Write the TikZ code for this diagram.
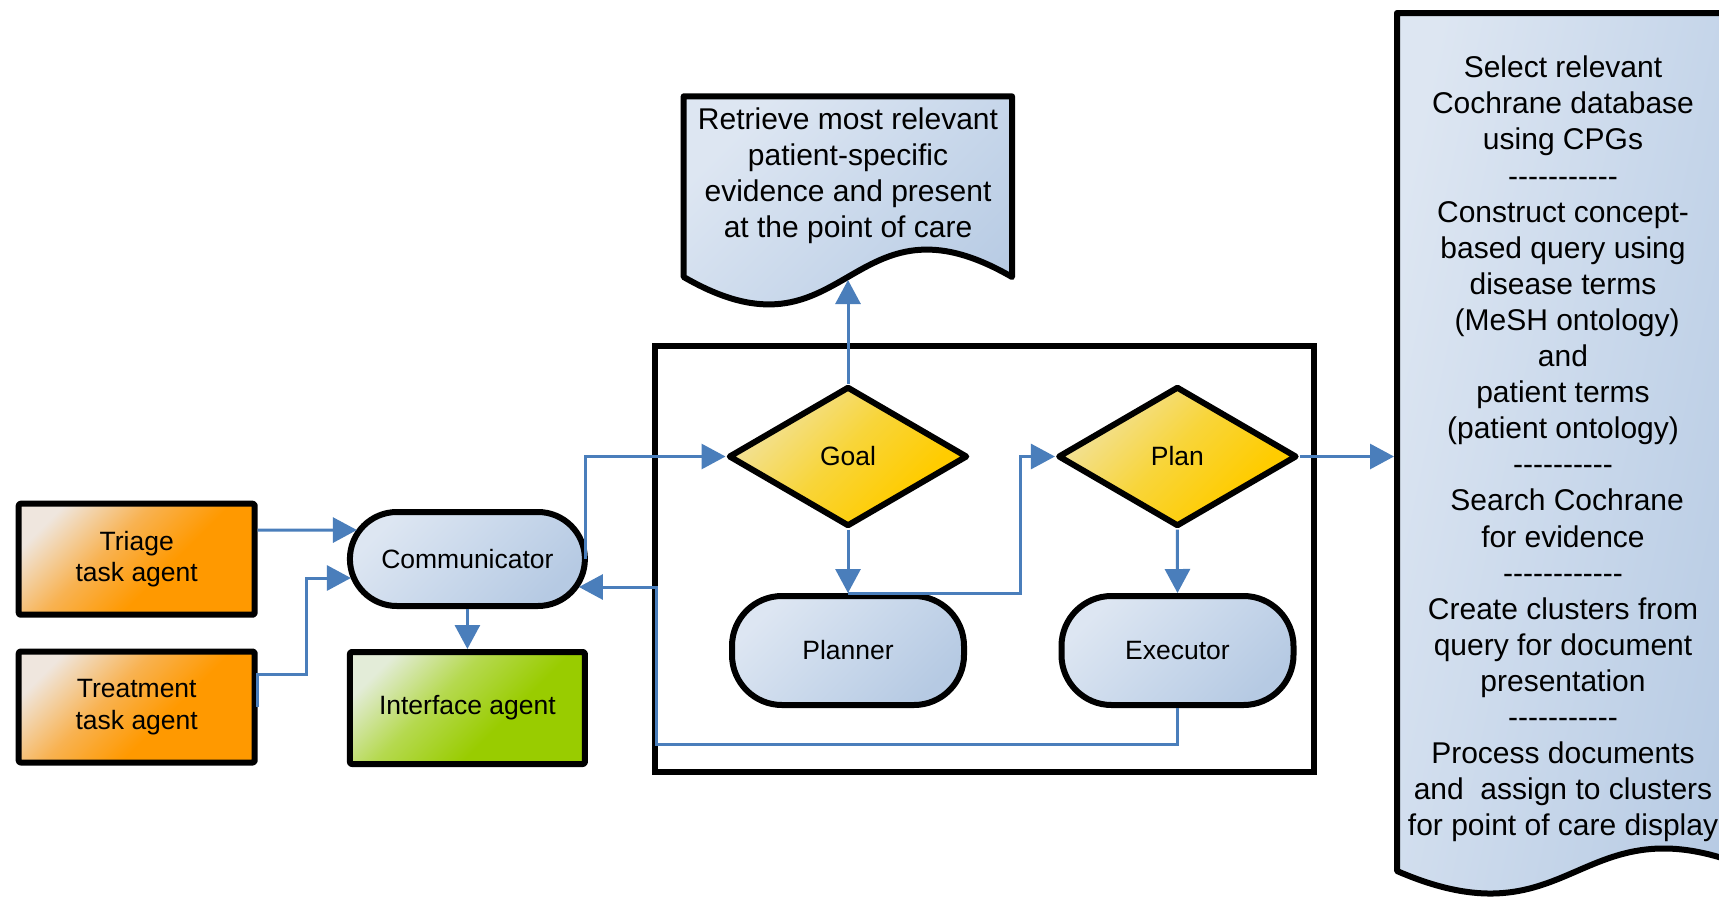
\documentclass[tikz,border=0pt]{standalone}
\usepackage{fontspec}
\setmainfont{Liberation Sans}[Ligatures=TeXOff]
\usetikzlibrary{shapes.geometric,arrows.meta,calc}

\definecolor{conblue}{HTML}{4A7EBB}
\definecolor{orgA}{HTML}{EFE6DE}
\definecolor{orgM}{HTML}{F8B251}
\definecolor{orgB}{HTML}{FF9900}
\definecolor{bluA}{HTML}{DDE6F2}
\definecolor{bluM}{HTML}{C9D8EB}
\definecolor{bluB}{HTML}{B6CAE3}
\definecolor{yelA}{HTML}{F1E3A6}
\definecolor{yelM}{HTML}{F8D53A}
\definecolor{yelB}{HTML}{FFCC00}
\definecolor{grnA}{HTML}{E3ECD8}
\definecolor{grnM}{HTML}{B5D94F}
\definecolor{grnB}{HTML}{99CC00}

% diagonal fills: light corner at the top left, full colour towards the bottom right
\pgfdeclareverticalshading{orangeshade}{100bp}{color(0bp)=(orgB); color(42bp)=(orgB); color(58bp)=(orgM); color(76bp)=(orgA); color(100bp)=(orgA)}
\pgfdeclareverticalshading{greenshade}{100bp}{color(0bp)=(grnB); color(40bp)=(grnB); color(58bp)=(grnM); color(76bp)=(grnA); color(100bp)=(grnA)}
\pgfdeclareverticalshading{yellowshade}{100bp}{color(0bp)=(yelB); color(32bp)=(yelB); color(52bp)=(yelM); color(76bp)=(yelA); color(100bp)=(yelA)}

\begin{document}
\begin{tikzpicture}[x=1pt,y=-1pt,
  basic/.style={draw=black, line width=6pt, line join=round, inner sep=0pt,
    align=center, font=\fontsize{26.5}{31.8}\selectfont},
  orangefill/.style={shading=orangeshade, shading angle=45},
  bluefill/.style={top color=bluA, bottom color=bluB, middle color=bluM, shading angle=45},
  yellowfill/.style={shading=yellowshade, shading angle=45},
  greenfill/.style={shading=greenshade, shading angle=45},
  agentbox/.style={basic, rectangle, rounded corners=2pt, minimum width=236pt, minimum height=111pt, orangefill},
  uibox/.style={basic, rectangle, rounded corners=2pt, minimum width=235pt, minimum height=112pt, greenfill},
  pill/.style={basic, rectangle, rounded corners=47pt, minimum width=235pt, minimum height=94pt, bluefill},
  bigpill/.style={basic, rectangle, rounded corners=50pt, minimum width=232pt, minimum height=109pt, bluefill},
  choice/.style={basic, diamond, minimum width=239pt, minimum height=140pt, yellowfill},
  docshape/.style={draw=black, line width=6pt, line join=round},
  doctext/.style={inner sep=0pt, align=center, font=\fontsize{30}{36.1}\selectfont},
  conn/.style={draw=conblue, line width=3pt, -{Triangle[length=24pt,width=25pt]}}
]
\useasboundingbox (0,0) rectangle (1719,900);
\fill[white] (0,0) rectangle (1719,900);
\clip (0,0) rectangle (1719,900);

% enclosing frame of the reasoning component
\node[draw=black, line width=6pt, inner sep=0pt, minimum width=658.5pt, minimum height=425.5pt] (frame) at (984.25,558.75) {};

% agents on the left
\node[agentbox] (triage) at (136.7,559.2) {Triage\\task agent};
\node[agentbox] (treat) at (136.7,707) {Treatment\\task agent};
\node[pill] (comm) at (467.4,559) {Communicator};
\node[uibox] (interface) at (467.4,708) {Interface agent};

% goal / plan decisions and their components
\node[choice] (goal) at (848,456.5) {Goal};
\node[choice] (plan) at (1177.4,456.5) {Plan};
\node[bigpill] (planner) at (848,650.5) {Planner};
\node[bigpill] (executor) at (1177.5,650.5) {Executor};

% evidence document
\draw[docshape, bluefill] (683.7,96.3) -- (1012,96.3) -- (1012,277)
  .. controls (847.85,182) and (847.85,372) .. (683.7,277) -- cycle;
\node[doctext] (retrieve) at (848,175.4)
  {Retrieve most relevant\\patient-specific\\evidence and present\\at the point of care};
\coordinate (docout) at (848,280);

% task list document
\draw[docshape, top color=bluA, bottom color=bluB, middle color=bluM, shading angle=78]
  (1397,13) -- (1757,13) -- (1757,871)
  .. controls (1577,793) and (1577,949) .. (1397,871) -- cycle;
\node[doctext] (tasks) at (1563,449)
  {Select relevant\\Cochrane database\\using CPGs\\-----------\\Construct concept-\\based query using\\disease terms\\\ (MeSH ontology)\\and\\patient terms\\(patient ontology)\\----------\\\ Search Cochrane\\for evidence\\------------\\Create clusters from\\query for document\\presentation\\-----------\\Process documents\\and\ \ assign to clusters\\for point of care display};
\coordinate (docin) at (1394,456.5);

% connectors
\draw[conn] ([yshift=29pt]triage.east) -- ([yshift=29pt,xshift=10pt]comm.west);
\draw[conn] (treat.east) -- ([yshift=33pt]treat.east) -- ++(49,0) |- ([yshift=-19pt,xshift=4pt]comm.west);
\draw[conn] (comm.south) -- (interface.north);
\draw[conn] ([xshift=-2pt]comm.east) |- (goal.west);
\draw[conn] (goal.north) -- (docout);
\draw[conn] (goal.south) -- (planner.north);
\draw[conn] (planner.north) -| ([xshift=-34pt]plan.west) -- (plan.west);
\draw[conn] (plan.south) -- (executor.north);
\draw[conn] (plan.east) -- (docin);
\draw[conn] (executor.south) -- ++(0,36) -- ++(-520.8,0) -- ++(0,-157) -- ([yshift=-28pt,xshift=-9pt]comm.east);
\end{tikzpicture}
\end{document}
